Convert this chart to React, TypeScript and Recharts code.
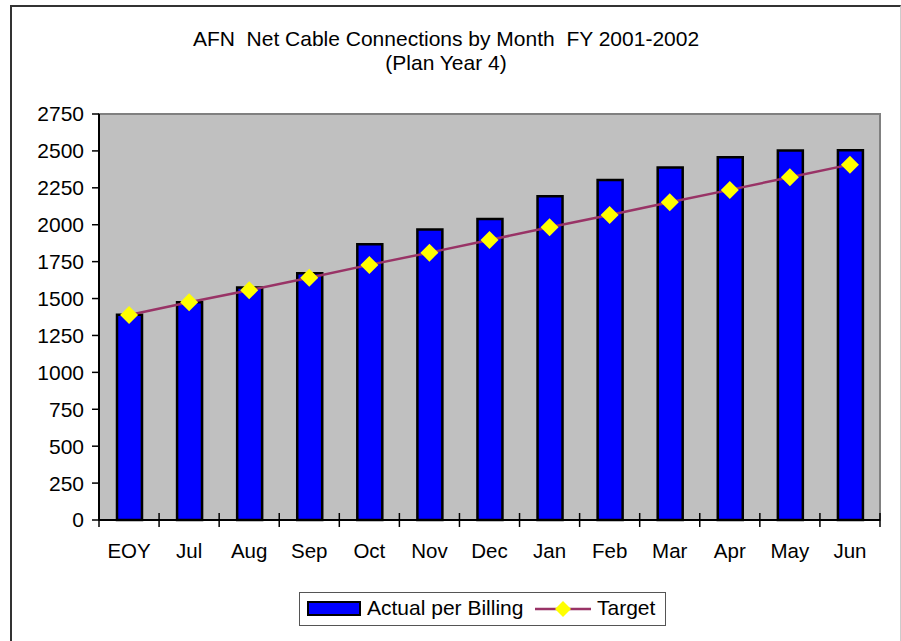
import {
  Bar,
  CartesianGrid,
  ComposedChart,
  Legend,
  Line,
  ReferenceArea,
  XAxis,
  YAxis,
} from "recharts";

const months = ["EOY", "Jul", "Aug", "Sep", "Oct", "Nov", "Dec", "Jan", "Feb", "Mar", "Apr", "May", "Jun"];
const actualPerBilling = [1390, 1475, 1575, 1672, 1868, 1968, 2038, 2193, 2303, 2388, 2457, 2502, 2505];
const target = [1389, 1475, 1556, 1641, 1728, 1811, 1897, 1983, 2066, 2152, 2236, 2322, 2407];
const yTicks = [0, 250, 500, 750, 1000, 1250, 1500, 1750, 2000, 2250, 2500, 2750];

const data = months.map((m, i) => ({
  month: m,
  actual: actualPerBilling[i],
  target: target[i],
}));

const FONT = '"Liberation Sans", Arial, sans-serif';
const MAROON = "#993366";
const BAND = 781 / months.length;

function Diamond(props: any) {
  const { cx, cy, index } = props;
  if (cx == null || cy == null) return null;
  const r = 9;
  return (
    <path
      key={`d-${index}`}
      d={`M${cx},${cy - r} L${cx + r},${cy} L${cx},${cy + r} L${cx - r},${cy} Z`}
      fill="#FFFF00"
      stroke="none"
    />
  );
}

function MonthTick(props: any) {
  const { x, y, payload, index } = props;
  const last = index === months.length - 1;
  return (
    <g>
      <line x1={x - BAND / 2} x2={x - BAND / 2} y1={y - 7} y2={y + 7} stroke="#000" strokeWidth={1.5} />
      {last && <line x1={x + BAND / 2} x2={x + BAND / 2} y1={y - 7} y2={y + 7} stroke="#000" strokeWidth={1.5} />}
      <text x={x} y={y + 38} textAnchor="middle" fontSize={20.5} fontFamily={FONT} fill="#000">
        {payload.value}
      </text>
    </g>
  );
}

function LegendBox() {
  return (
    <div
      style={{
        position: "relative",
        boxSizing: "border-box",
        width: 367,
        height: 34,
        border: "1px solid #555",
        background: "#fff",
        fontFamily: FONT,
        fontSize: 21,
        color: "#000",
      }}
    >
      <div
        style={{
          position: "absolute",
          left: 7,
          top: 8,
          width: 54,
          height: 15,
          boxSizing: "border-box",
          background: "#0000FF",
          border: "2px solid #000",
        }}
      />
      <span style={{ position: "absolute", left: 67, top: 3, lineHeight: "24px" }}>Actual per Billing</span>
      <svg style={{ position: "absolute", left: 235, top: 6 }} width={56} height={20}>
        <line x1={0} x2={56} y1={10} y2={10} stroke={MAROON} strokeWidth={2.5} />
        <path d="M28,2 L36,10 L28,18 L20,10 Z" fill="#FFFF00" />
      </svg>
      <span style={{ position: "absolute", left: 297, top: 3, lineHeight: "24px" }}>Target</span>
    </div>
  );
}

export default function App() {
  return (
    <div style={{ position: "absolute", left: 0, top: 0, width: 901, height: 641, background: "#fff", overflow: "hidden" }}>
      <div
        style={{
          position: "absolute",
          left: 10,
          top: 5,
          width: 888,
          height: 640,
          borderLeft: "2px solid #333",
          borderTop: "2px solid #333",
          borderRight: "1px solid #ccc",
        }}
      />
      <div
        style={{
          position: "absolute",
          left: 0,
          top: 27,
          width: 892,
          textAlign: "center",
          fontFamily: FONT,
          fontSize: 21,
          lineHeight: "24px",
          color: "#000",
        }}
      >
        <div>AFN&nbsp; Net Cable Connections by Month&nbsp; FY 2001-2002</div>
        <div>(Plan Year 4)</div>
      </div>
      <div style={{ position: "absolute", left: 0, top: 0 }}>
        <ComposedChart
          width={901}
          height={641}
          data={data}
          margin={{ top: 114, right: 21, bottom: 15, left: 0 }}
          barCategoryGap={0}
        >
          <CartesianGrid horizontal={false} vertical={false} fill="#C0C0C0" />
          <ReferenceArea y1={0} y2={2750} fill="none" stroke="#808080" strokeWidth={2} ifOverflow="visible" />
          <XAxis
            dataKey="month"
            height={72}
            axisLine={{ stroke: "#000", strokeWidth: 2 }}
            tickLine={false}
            tickSize={0}
            tickMargin={0}
            tick={<MonthTick />}
            interval={0}
          />
          <YAxis
            width={99}
            domain={[0, 2750]}
            ticks={yTicks}
            interval={0}
            axisLine={{ stroke: "#000", strokeWidth: 2 }}
            tickLine={{ stroke: "#000", strokeWidth: 1.5 }}
            tickSize={7}
            tickMargin={8}
            tick={{ fontSize: 21, fontFamily: FONT, fill: "#000" }}
          />
          <Bar
            dataKey="actual"
            name="Actual per Billing"
            fill="#0000FF"
            stroke="#000"
            strokeWidth={2.5}
            barSize={25}
            isAnimationActive={false}
          />
          <Line
            dataKey="target"
            name="Target"
            type="linear"
            stroke={MAROON}
            strokeWidth={2.5}
            dot={Diamond}
            activeDot={false}
            isAnimationActive={false}
          />
          <Legend
            verticalAlign="bottom"
            content={() => <LegendBox />}
            wrapperStyle={{ left: 299, width: 367, bottom: 15 }}
          />
        </ComposedChart>
      </div>
    </div>
  );
}
